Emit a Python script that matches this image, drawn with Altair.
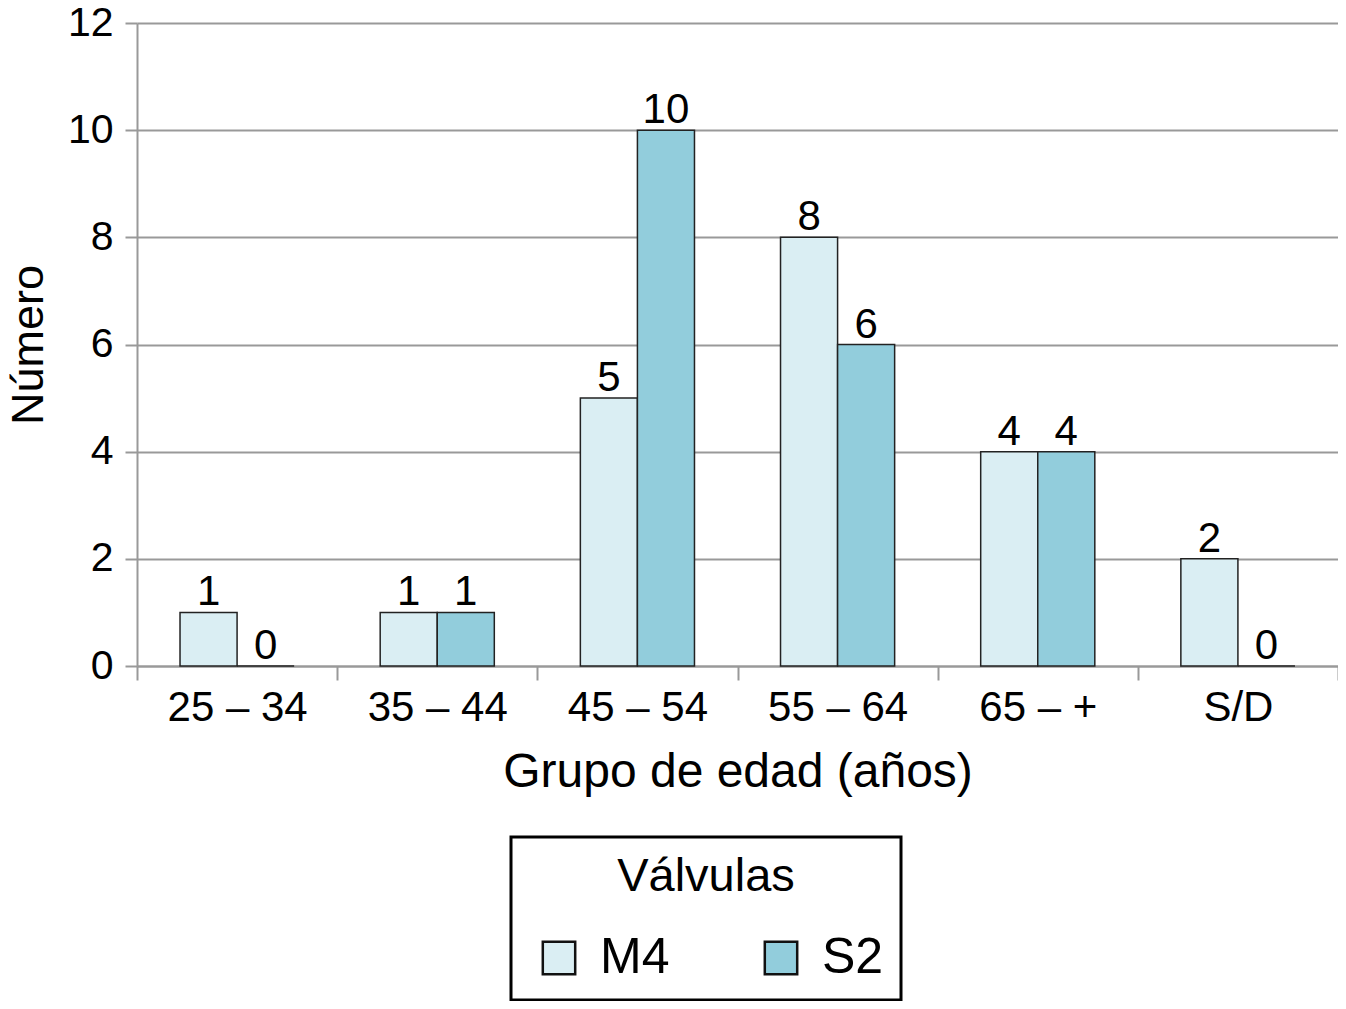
import altair as alt
import pandas as pd

grupos = ["25 – 34", "35 – 44", "45 – 54", "55 – 64", "65 – +", "S/D"]
m4 = [1, 1, 5, 8, 4, 2]
s2 = [0, 1, 10, 6, 4, 0]
series = ["M4", "S2"]
colores = ["#daeef3", "#92cddc"]

rows = []
for g, a, b in zip(grupos, m4, s2):
    rows.append({"grupo": g, "valvula": "M4", "n": a})
    rows.append({"grupo": g, "valvula": "S2", "n": b})
df = pd.DataFrame(rows)

FONT = "Liberation Sans"

x = alt.X("grupo:N", sort=grupos, title="Grupo de edad (años)",
          scale=alt.Scale(paddingInner=0, paddingOuter=0),
          axis=alt.Axis(labelAngle=0, labelFontSize=42, titleFontSize=48,
                        labelColor="black", titleColor="black", titleFontWeight="normal",
                        tickBand="extent", tickSize=14, tickColor="#999999",
                        domainColor="#999999", domainWidth=2, tickWidth=2,
                        labelPadding=7, titlePadding=20, labelFont=FONT, titleFont=FONT))
y = alt.Y("n:Q", title="Número",
          scale=alt.Scale(domain=[0, 12]),
          axis=alt.Axis(values=[0, 2, 4, 6, 8, 10, 12], format="d",
                        labelFontSize=41, titleFontSize=45,
                        labelColor="black", titleColor="black", titleFontWeight="normal",
                        tickSize=12, tickColor="#999999", tickWidth=2,
                        domainColor="#999999", domainWidth=2,
                        gridColor="#999999", gridWidth=2,
                        labelPadding=12, titlePadding=16, labelFont=FONT, titleFont=FONT))

base = alt.Chart(df).encode(
    x=x,
    xOffset=alt.XOffset("valvula:N", sort=series,
                        scale=alt.Scale(paddingInner=0, paddingOuter=0.754)),
)

bars = base.mark_bar(stroke="#222222", strokeWidth=1.5).encode(
    y=y,
    color=alt.Color("valvula:N", sort=series,
                    scale=alt.Scale(domain=series, range=colores),
                    legend=alt.Legend(title="Válvulas", orient="none", legendX=374, legendY=814,
                                      direction="horizontal", titleFontSize=47,
                                      titleFontWeight="normal", titleColor="black",
                                      titleAlign="center", titleAnchor="middle",
                                      titlePadding=32, labelFontSize=50, labelColor="black",
                                      symbolType="square", symbolSize=1050, symbolOffset=6,
                                      symbolStrokeColor="#111111", symbolStrokeWidth=2.5,
                                      symbolOpacity=1, columnPadding=80, labelOffset=16,
                                      strokeColor="black", padding=17,
                                      titleFont=FONT, labelFont=FONT)),
)

labels = base.mark_text(fontSize=42, dy=-7, baseline="alphabetic", color="black",
                        font=FONT).encode(y="n:Q", text="n:Q")

chart = (bars + labels).properties(
    width=1201, height=643,
    autosize=alt.AutoSizeParams(type="none"),
    padding={"left": 129, "top": 15, "right": 0, "bottom": 335},
).configure_view(stroke=None).configure_legend(strokeWidth=3)

chart.save("out.html", embed_options={"renderer": "svg", "actions": False})
